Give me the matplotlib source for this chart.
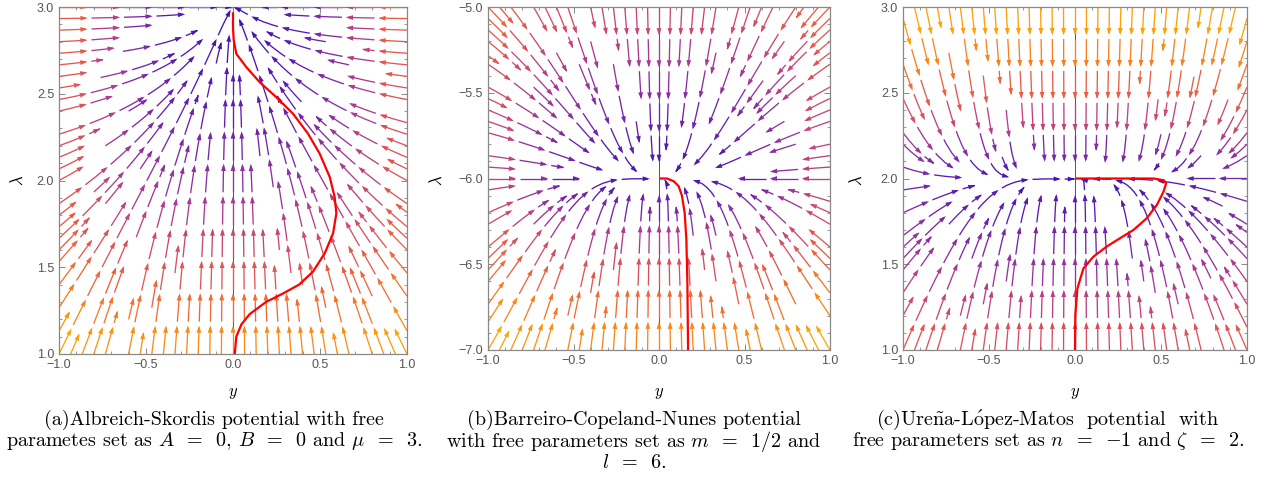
import numpy as np
import matplotlib
matplotlib.use("Agg")
import matplotlib.pyplot as plt
from matplotlib.colors import LinearSegmentedColormap, Normalize
from matplotlib.collections import LineCollection, PolyCollection
from matplotlib.ticker import MultipleLocator

plt.rcParams["mathtext.fontset"] = "cm"

# ---------------- data ----------------
x_limits = (-1.0, 1.0)
y_limits = [(1.0, 3.0), (-7.0, -5.0), (1.0, 3.0)]

# red trajectories (y, lambda)
traj_a_y = [0.01, 0.019, 0.048, 0.096, 0.19, 0.29, 0.38, 0.46, 0.527, 0.575, 0.594,
            0.584, 0.556, 0.498, 0.431, 0.345, 0.249, 0.153, 0.077, 0.019, 0.004, 0.0, 0.0]
traj_a_l = [1.0, 1.10, 1.17, 1.23, 1.30, 1.35, 1.40, 1.475, 1.58, 1.695, 1.81,
            1.906, 2.02, 2.155, 2.27, 2.385, 2.48, 2.567, 2.653, 2.73, 2.81, 2.88, 2.97]

traj_b_y = [0.0, 0.047, 0.086, 0.115, 0.134, 0.15, 0.16, 0.166, 0.17]
traj_b_l = [-6.0, -6.0, -6.016, -6.045, -6.10, -6.2, -6.355, -6.607, -7.0]

traj_c_y = [0.0, 0.002, 0.014, 0.049, 0.107, 0.184, 0.262, 0.34, 0.417, 0.476,
            0.515, 0.53, 0.515, 0.456, 0.28, 0.0]
traj_c_l = [1.0, 1.204, 1.359, 1.476, 1.544, 1.603, 1.652, 1.70, 1.768, 1.846,
            1.924, 1.973, 1.99, 2.0, 2.0, 2.0]

captions = [
    ["(a)Albreich-Skordis potential with free",
     r"parametes set as $A\;\;=\;\;0$, $B\;\;=\;\;0$ and $\mu\;\;=\;\;3$."],
    ["(b)Barreiro-Copeland-Nunes potential",
     r"with free parameters set as $m\;\;=\;\;1/2$ and",
     r"$l\;\;=\;\;6$."],
    [r"(c)Ure$\mathrm{\tilde{n}}$a-L$\mathrm{\acute{o}}$pez-Matos  potential  with",
     r"free parameters set as $n\;\;=\;\;{-}1$ and $\zeta\;\;=\;\;2$."],
]


# ---------------- vector fields ----------------
def field_a(Y, L):
    s = 3.0 - L
    k = 0.44 + 0.34 * np.clip((L - 1.0) / 2.0, 0, None) ** 1.5
    u = -k * Y * (0.15 + np.abs(Y)) / 1.15
    return u, 0.15 * s + 0.15 * s ** 2


def field_b(Y, L):
    s = L + 6.0
    u = -0.5 * Y * (0.3 + np.abs(Y)) / 1.3
    a = np.abs(s)
    v = np.where(s < 0, a * (1.2 - 0.35 * a), -0.51 * a)
    return u, v


def field_c(Y, L):
    s = L - 2.0
    u = -0.28 * Y * (0.1 + np.abs(Y)) / 1.1
    a = np.abs(s)
    v = np.where(s > 0, -a * (1.55 - 0.5 * a), 0.65 * a)
    return u, v


fields = [field_a, field_b, field_c]
trajs = [(traj_a_y, traj_a_l), (traj_b_y, traj_b_l), (traj_c_y, traj_c_l)]

stream_cmap = LinearSegmentedColormap.from_list(
    "stream",
    [(0.0, "#3d12b5"), (0.18, "#6a22ab"), (0.35, "#a0369a"), (0.5, "#d04a6c"),
     (0.65, "#ec5f42"), (0.8, "#f7821f"), (1.0, "#ffb300")])


def traced_streamlines(gx, gy, U, V, density):
    """Stream curves (ordered along the flow) computed by matplotlib."""
    tfig, tax = plt.subplots()
    res = tax.streamplot(gx, gy, U, V, density=density, minlength=0.04,
                         maxlength=6.0)
    segs = [np.asarray(s) for s in res.lines.get_segments()]
    plt.close(tfig)
    curves, cur = [], None
    for s in segs:
        if len(s) < 2:
            continue
        if cur is not None and np.allclose(s[0], cur[-1], atol=1e-9):
            cur.extend(list(s[1:]))
        else:
            if cur is not None:
                curves.append(np.array(cur))
            cur = list(s)
    if cur is not None:
        curves.append(np.array(cur))
    return curves


def arrow_pieces(curve, sx, seg_len=0.165, gap=0.022, min_len=0.05):
    """Cut a curve into short pieces; each one will end with an arrowhead."""
    p = curve.copy()
    p[:, 1] = p[:, 1] * sx  # equalise the two data units
    d = np.hypot(np.diff(p[:, 0]), np.diff(p[:, 1]))
    cum = np.concatenate([[0], np.cumsum(d)])
    total = cum[-1]
    pieces = []
    start = 0.0
    while start < total - min_len:
        end = min(start + seg_len, total)
        t = np.linspace(start, end, 12)
        xs = np.interp(t, cum, p[:, 0])
        ys = np.interp(t, cum, p[:, 1]) / sx
        pieces.append(np.column_stack([xs, ys]))
        start = end + gap
    return pieces


# ---------------- figure ----------------
W, H = 1276, 493
fig = plt.figure(figsize=(W / 100, H / 100), dpi=100)

boxes = [(59, 7, 407, 354), (488, 7, 830, 350), (903, 7, 1247, 350)]
lam_x = [18, 437, 857]
cap_x = [214, 634, 1048]
cap_rows = [420, 441, 463]

for i, (x0, y0, x1, y1) in enumerate(boxes):
    ax = fig.add_axes([x0 / W, 1 - y1 / H, (x1 - x0) / W, (y1 - y0) / H])
    ylo, yhi = y_limits[i]
    gy = np.linspace(-1, 1, 201)
    gl = np.linspace(ylo, yhi, 201)
    Y, L = np.meshgrid(gy, gl)
    U, V = fields[i](Y, L)
    norm = Normalize(0, np.hypot(U, V).max())

    sx = (x1 - x0) / (y1 - y0) * (2.0 / (yhi - ylo))  # data-y -> data-x scale
    curves = traced_streamlines(gy, gl, U, V, density=1.05)
    lines, heads, cols = [], [], []
    hl, hw = 0.042, 0.014
    for c in curves:
        for pc in arrow_pieces(c, sx):
            mid = pc[len(pc) // 2]
            uu, vv = fields[i](mid[0], mid[1])
            col = stream_cmap(norm(np.hypot(uu, vv)))
            tip = pc[-1]
            dx = pc[-1][0] - pc[-3][0]
            dy = (pc[-1][1] - pc[-3][1]) * sx
            n = np.hypot(dx, dy)
            if n == 0:
                continue
            dx, dy = dx / n, dy / n
            bx, by = tip[0] - hl * dx, tip[1] * sx - hl * dy
            heads.append(np.array([[tip[0], tip[1]],
                                   [bx - hw * dy, (by + hw * dx) / sx],
                                   [bx + hw * dy, (by - hw * dx) / sx]]))
            lines.append(np.vstack([pc[:-1], [[bx + 0.3 * hl * dx,
                                               (by + 0.3 * hl * dy) / sx]]]))
            cols.append(col)
    ax.add_collection(LineCollection(lines, colors=cols, linewidths=0.95,
                                     capstyle="butt", zorder=2))
    ax.add_collection(PolyCollection(heads, facecolors=cols, edgecolors="none",
                                     zorder=3))

    ax.axvline(0, color="#555555", lw=0.7, zorder=1)
    ty, tl = trajs[i]
    ax.plot(ty, tl, color="#ff0000", lw=1.6, zorder=5, solid_capstyle="butt")

    ax.set_xlim(*x_limits)
    ax.set_ylim(ylo, yhi)
    ax.xaxis.set_major_locator(MultipleLocator(0.5))
    ax.xaxis.set_minor_locator(MultipleLocator(0.1))
    ax.yaxis.set_major_locator(MultipleLocator(0.5))
    ax.yaxis.set_minor_locator(MultipleLocator(0.1))
    ax.tick_params(which="both", direction="in", top=True, right=True,
                   color="#888888", labelcolor="#555555", labelsize=9)
    ax.tick_params(which="major", length=4, width=0.7)
    ax.tick_params(which="minor", length=2, width=0.6)
    for lab in ax.get_xticklabels() + ax.get_yticklabels():
        lab.set_fontfamily("Liberation Sans")
    for sp in ax.spines.values():
        sp.set_color("#888888")
        sp.set_linewidth(0.9)

    fig.text((x0 + x1) / 2 / W, 1 - 392 / H, r"$y$", ha="center", va="center",
             fontsize=12)
    fig.text(lam_x[i] / W, 1 - 180 / H, r"$\lambda$", ha="center", va="center",
             fontsize=12, rotation=90)

    for j, line in enumerate(captions[i]):
        fig.text(cap_x[i] / W, 1 - cap_rows[j] / H, line, ha="center", va="center",
                 fontsize=14.5, fontfamily=["cmr10", "DejaVu Serif"])

fig.savefig("out.png", dpi=100)
